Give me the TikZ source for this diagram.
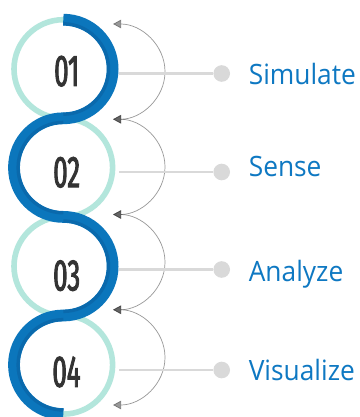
\documentclass[tikz,border=0pt]{standalone}
\usepackage{fontspec}
\setmainfont{Open Sans}
\newfontfamily\numfont[FakeStretch=0.58,FakeBold=2]{Fira Sans}
\newfontfamily\labfont[FakeStretch=0.94]{Open Sans}
\usetikzlibrary{arrows.meta}
\definecolor{mint}{HTML}{B3E6DC}
\definecolor{bandblue}{HTML}{0B76BC}
\definecolor{banddark}{HTML}{0A69AC}
\definecolor{labblue}{HTML}{0E78C2}
\definecolor{numgray}{HTML}{333333}
\definecolor{linegray}{HTML}{D9D9D9}
\definecolor{arcgray}{HTML}{333333}
\begin{document}
\begin{tikzpicture}[x=1pt,y=-1pt,
  ring/.style={circle, draw=mint, line width=5.6pt, minimum size=98.6pt, inner sep=0pt},
  blueband/.style={draw=bandblue, line width=11.8pt, line cap=butt},
  bandstripe/.style={draw=banddark, line width=3.2pt, line cap=butt},
  numtxt/.style={anchor=base, text=numgray, inner sep=0pt, font={\numfont\fontsize{44.5pt}{45pt}\selectfont}},
  lab/.style={anchor=base west, text=labblue, inner sep=0pt, font={\labfont\fontsize{28pt}{30pt}\selectfont}},
  hline/.style={draw=linegray, line width=2.6pt},
  dot/.style={circle, fill=linegray, minimum size=16.6pt, inner sep=0pt},
  garc/.style={draw=arcgray, draw opacity=0.5, fill opacity=0.5, line width=0.7pt,
    {Triangle[length=8pt,width=8.5pt]}-{Triangle[length=8pt,width=8.5pt]}}
]
\useasboundingbox (0,0) rectangle (359,417);
\fill[white] (0,0) rectangle (359,417);

% mint rings
\node[ring] (c1) at (63.3,69) {};
\node[ring] (c2) at (63.3,167.6) {};
\node[ring] (c3) at (63.3,266.2) {};
\node[ring] (c4) at (63.3,364.8) {};

% blue snake
\draw[blueband] (63.3,19.7)
  arc[start angle=-90,end angle=90,radius=49.3]
  arc[start angle=-90,end angle=-270,radius=49.3]
  arc[start angle=-90,end angle=90,radius=49.3]
  arc[start angle=-90,end angle=-270,radius=49.3];
\draw[bandstripe] (63.3,23.7) arc[start angle=-90,end angle=90,radius=45.3];
\draw[bandstripe] (63.3,122.3) arc[start angle=-90,end angle=-270,radius=45.3];
\draw[bandstripe] (63.3,220.9) arc[start angle=-90,end angle=90,radius=45.3];
\draw[bandstripe] (63.3,319.5) arc[start angle=-90,end angle=-270,radius=45.3];

% numbers
\node[numtxt] (n1) at (66.7,86) {01};
\node[numtxt] (n2) at (66.7,187.2) {02};
\node[numtxt] (n3) at (66.7,290.5) {03};
\node[numtxt] (n4) at (66.5,386.8) {04};

% gray arcs
\coordinate (t0) at (113,24);
\coordinate (t1) at (113,119.25);
\coordinate (t2) at (113,214.5);
\coordinate (t3) at (113,309.75);
\coordinate (t4) at (113,405);
\draw[garc] (t0) arc[start angle=-90,end angle=90,x radius=52,y radius=47.625];
\draw[garc] (t1) arc[start angle=-90,end angle=90,x radius=52,y radius=47.625];
\draw[garc] (t2) arc[start angle=-90,end angle=90,x radius=52,y radius=47.625];
\draw[garc] (t3) arc[start angle=-90,end angle=90,x radius=52,y radius=47.625];

% connector lines and dots
\node[dot] (d1) at (221.7,73.5) {};
\node[dot] (d2) at (221.7,172) {};
\node[dot] (d3) at (221.7,269.5) {};
\node[dot] (d4) at (221.7,370) {};
\coordinate (e1) at (118.5,73.5);
\coordinate (e2) at (119,172);
\coordinate (e3) at (118.5,269.5);
\coordinate (e4) at (119,370);
\draw[hline] (e1) -- (d1);
\draw[hline] (e2) -- (d2);
\draw[hline] (e3) -- (d3);
\draw[hline] (e4) -- (d4);

% labels
\node[lab] (l1) at (248.6,85) {Simulate};
\node[lab] (l2) at (248.6,176.7) {Sense};
\node[lab] (l3) at (248.6,281.7) {Analyze};
\node[lab] (l4) at (248.6,380) {Visualize};
\end{tikzpicture}
\end{document}
